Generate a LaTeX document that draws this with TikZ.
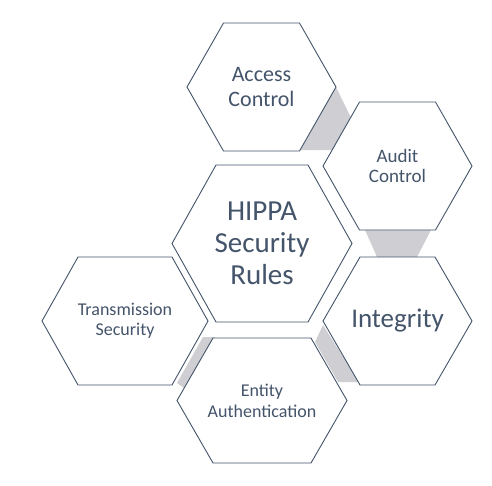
\documentclass[tikz,border=0pt]{standalone}
\usepackage{fontspec}
\setmainfont{Carlito}
\usetikzlibrary{calc}

\definecolor{slate}{HTML}{44546A}
\definecolor{linkgray}{HTML}{CFCFD3}

\begin{document}
\begin{tikzpicture}[x=1pt, y=-1pt,
	cell/.style={draw=slate, line width=0.9pt, fill=white},
	celltext/.style={text=slate, align=center, inner sep=0pt},
	link/.style={fill=linkgray}]

	\useasboundingbox (0,0) rectangle (492,485);

	% ---- links behind the cells

	\fill[link] (336,87) -- (350.6,117) -- (332.6,150) -- (299,150) -- cycle;
	\fill[link] (365,230) -- (431,230) -- (417,257) -- (377,257) -- cycle;
	\fill[link] (323,325) -- (315,342) -- (338,382) -- (359,382) -- cycle;
	\fill[link] (203,337) -- (215,337) -- (184,388) -- (177,383) -- cycle;

	% ---- cells (name / centre / half width / half top / half height)

	\foreach \n/\x/\y/\a/\b/\h in {
		access/261.5/87/74.5/38/64,
		audit/397.5/166/74.5/38/64,
		hippa/262/243.5/90/46/78.5,
		trans/125/321/83/47/64,
		integ/397.5/321/74.5/37.5/64,
		entity/262/400.5/85/49/62.5} {
		\coordinate (\n) at (\x,\y);
		\draw[cell] (\x-\a,\y) -- (\x-\b,\y-\h) -- (\x+\b,\y-\h)
			-- (\x+\a,\y) -- (\x+\b,\y+\h) -- (\x-\b,\y+\h) -- cycle;
	}

	% ---- labels

	\node[celltext, font=\fontsize{22}{25.7}\selectfont] (access-t) at (access) {Access\\Control};
	\node[celltext, font=\fontsize{19}{20.7}\selectfont] (audit-t) at (audit) {Audit\\Control};
	\node[celltext, font=\fontsize{29}{32}\selectfont] (hippa-t) at (hippa) {HIPPA\\Security\\Rules};
	\node[celltext, font=\fontsize{18}{20}\selectfont] (trans-t) at (trans) {Transmission\\Security};
	\node[celltext, font=\fontsize{27}{30}\selectfont] (integ-t) at (integ) {Integrity};
	\node[celltext, font=\fontsize{18}{20.7}\selectfont] (entity-t) at (entity) {Entity\\Authentication};

\end{tikzpicture}
\end{document}
